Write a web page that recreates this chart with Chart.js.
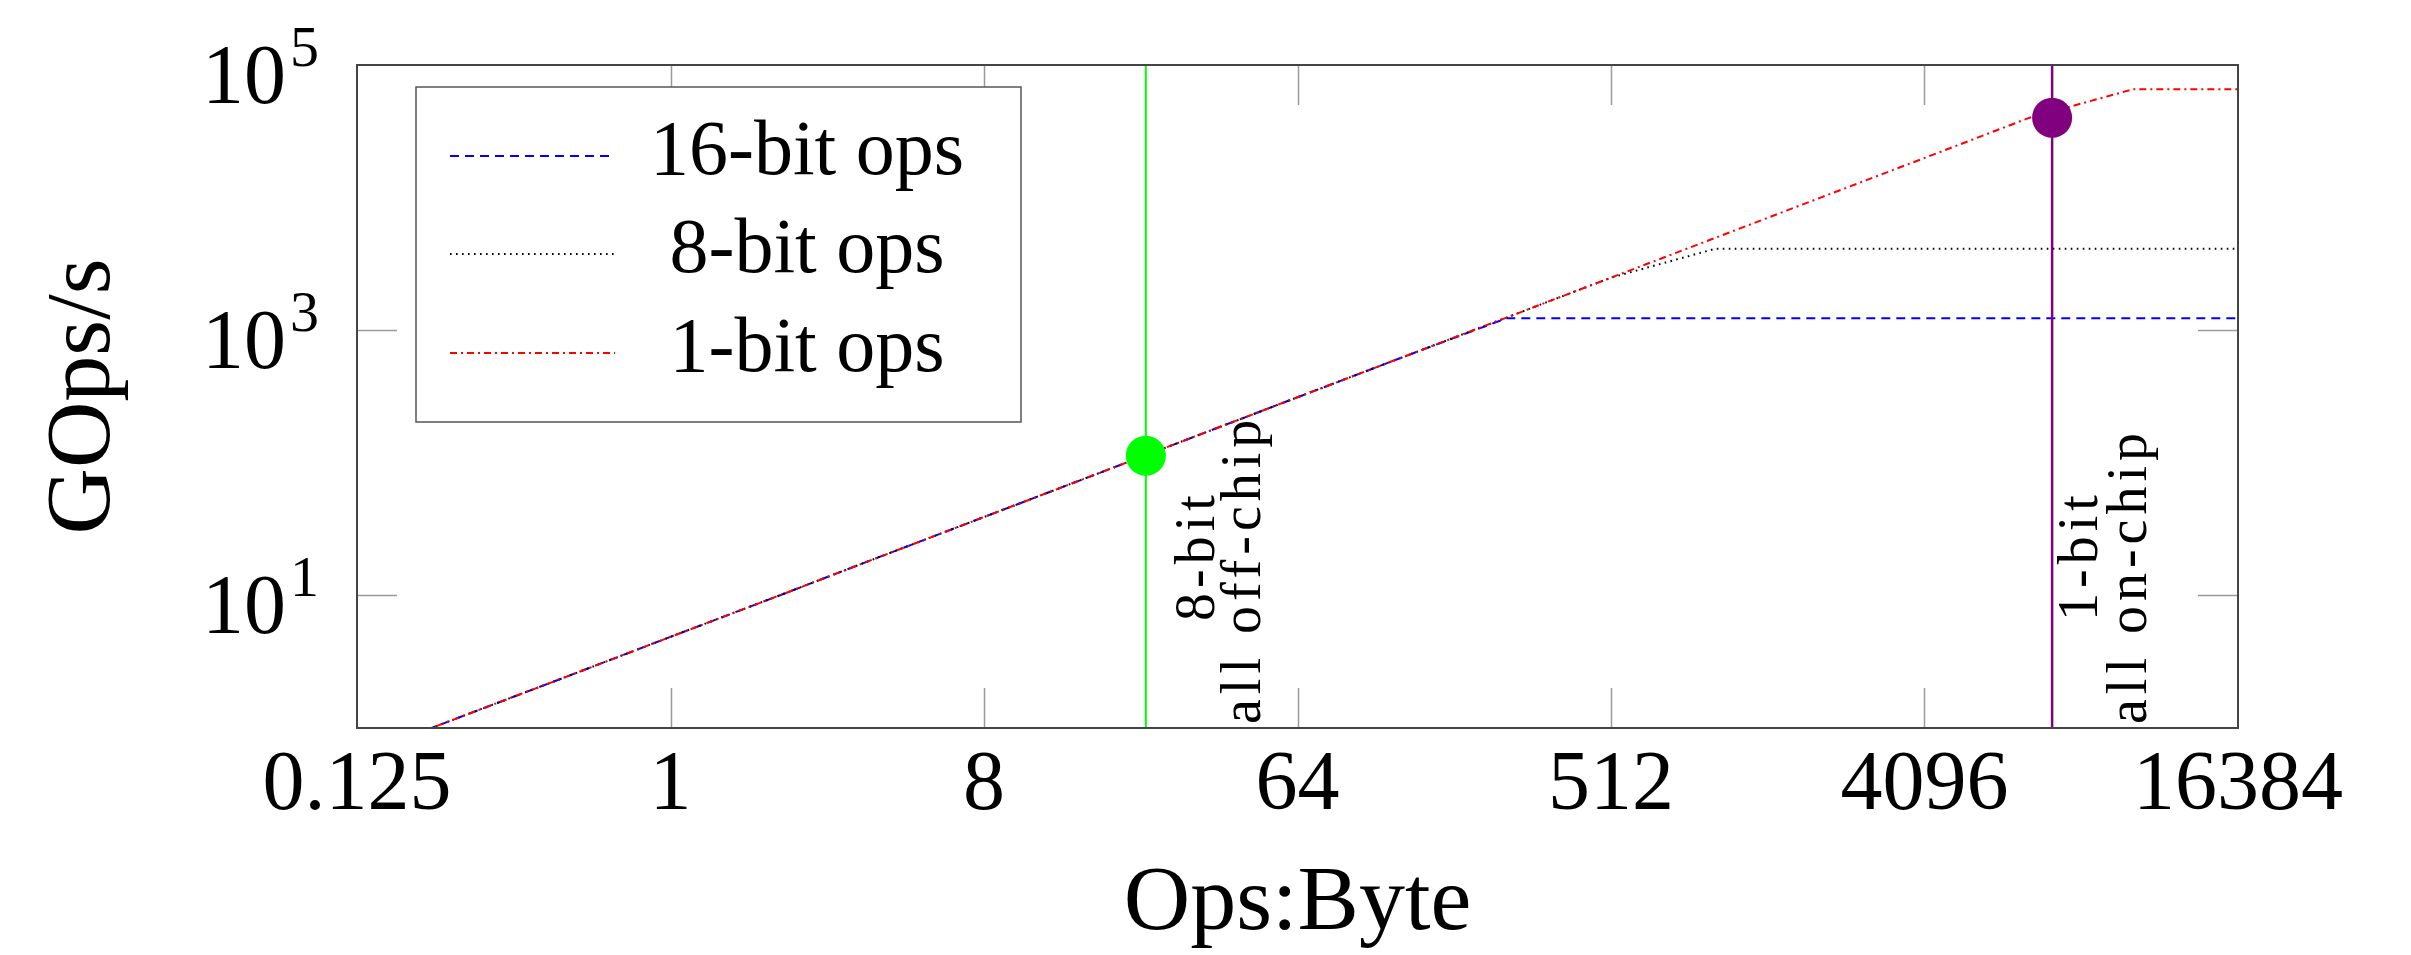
<!DOCTYPE html>
<html>
<head>
<meta charset="utf-8">
<title>Roofline</title>
<script src="https://cdn.jsdelivr.net/npm/chart.js@4.4.1/dist/chart.umd.min.js"></script>
<style>
  html, body { margin: 0; padding: 0; background: #fff; }
  #wrap { width: 2411px; height: 955px; position: relative; }
</style>
</head>
<body>
<div id="wrap"><canvas id="roofline"></canvas></div>
<script>
// data
const opsPerByte = [0.125, 0.25, 0.5, 1, 2, 4, 8, 16, 32, 64, 128, 256, 512, 1024, 2048, 4096, 8192, 16384, 32768];
const gops16bit = [0.61, 1.22, 2.43, 4.87, 9.7, 19.5, 39, 78, 156, 312, 623, 1230, 1230, 1230, 1230, 1230, 1230, 1230, 1230];
const gops8bit  = [0.61, 1.22, 2.43, 4.87, 9.7, 19.5, 39, 78, 156, 312, 623, 1245, 2490, 4120, 4120, 4120, 4120, 4120, 4120];
const gops1bit  = [0.61, 1.22, 2.43, 4.87, 9.7, 19.5, 39, 78, 156, 312, 623, 1245, 2490, 4980, 9960, 19900, 39900, 65700, 65700];

const seriesLabels = ['16-bit ops', '8-bit ops', '1-bit ops'];

// operating points (vertical marker + dot)
const markerOps  = [23.4, 9550];
const markerGops = [113, 40000];
const markerText = [['8-bit', 'all off-chip'], ['1-bit', 'all on-chip']];

const xTickValues = [0.125, 1, 8, 64, 512, 4096, 32768];
const xTickLabels = ['0.125', '1', '8', '64', '512', '4096', '16384'];
const yTickValues = [10, 1000, 100000];
const yTickExp = ['1', '3', '5'];

const X_MIN = 0.125, X_MAX = 32768, Y_MIN = 1, Y_MAX = 100000;
const FONT = "'Liberation Serif', 'Times New Roman', serif";
const TICK_LEN = 40;

const toPoints = (ys) => opsPerByte.map((x, i) => ({ x: x, y: ys[i] }));

const markerColors = ['#00ff00', '#800080'];
const markerWidths = [2, 2.5];

const datasets = [];
markerOps.forEach((x, i) => {
  datasets.push({
    label: 'dot' + i, type: 'scatter', data: [{ x: x, y: markerGops[i] }],
    pointRadius: 20, pointBackgroundColor: markerColors[i], pointBorderWidth: 0, order: 0
  });
  datasets.push({
    label: 'vline' + i, type: 'line', data: [{ x: x, y: Y_MIN }, { x: x, y: Y_MAX }],
    borderColor: markerColors[i], borderWidth: markerWidths[i], pointRadius: 0, order: 1
  });
});

const lineSeries = [
  { label: seriesLabels[0], data: toPoints(gops16bit), borderColor: '#0000ff', borderDash: [9, 6], order: 4 },
  { label: seriesLabels[1], data: toPoints(gops8bit), borderColor: '#000000', borderDash: [1.6, 4.4], order: 3 },
  { label: seriesLabels[2], data: toPoints(gops1bit), borderColor: '#ff0000', borderDash: [7, 4, 2, 4], order: 2 }
];
lineSeries.forEach(s => {
  datasets.push(Object.assign({ type: 'line', borderWidth: 2, pointRadius: 0, tension: 0, fill: false }, s));
});

const decorPlugin = {
  id: 'decor',
  beforeDatasetsDraw(chart) {
    const { ctx, chartArea: a, scales: { x, y } } = chart;
    ctx.save();
    ctx.strokeStyle = '#9a9a9a';
    ctx.lineWidth = 1.5;
    ctx.beginPath();
    xTickValues.forEach(v => {
      const px = Math.round(x.getPixelForValue(v)) + 0.5;
      if (px <= a.left + 2 || px >= a.right - 2) return;
      ctx.moveTo(px, a.bottom); ctx.lineTo(px, a.bottom - TICK_LEN);
      ctx.moveTo(px, a.top); ctx.lineTo(px, a.top + TICK_LEN);
    });
    yTickValues.forEach(v => {
      const py = Math.round(y.getPixelForValue(v)) + 0.5;
      if (py <= a.top + 2 || py >= a.bottom - 2) return;
      ctx.moveTo(a.left, py); ctx.lineTo(a.left + TICK_LEN, py);
      ctx.moveTo(a.right, py); ctx.lineTo(a.right - TICK_LEN, py);
    });
    ctx.stroke();
    ctx.restore();
  },
  afterDatasetsDraw(chart) {
    const { ctx, chartArea: a, scales: { x, y } } = chart;
    ctx.save();

    // frame
    ctx.strokeStyle = '#444';
    ctx.lineWidth = 2;
    ctx.strokeRect(a.left, a.top, a.right - a.left, a.bottom - a.top);

    // y tick labels 10^n
    ctx.fillStyle = '#000';
    yTickValues.forEach((v, i) => {
      const py = y.getPixelForValue(v);
      const right = a.left - 38;
      ctx.font = '58px ' + FONT;
      ctx.textAlign = 'right';
      ctx.textBaseline = 'alphabetic';
      const ew = ctx.measureText(yTickExp[i]).width;
      ctx.fillText(yTickExp[i], right, py + 1);
      ctx.font = '84px ' + FONT;
      ctx.fillText('10', right - ew - 4, py + 38);
    });

    // rotated notes next to the vertical markers
    const noteOffsets = [[68, 114], [45, 94]];
    ctx.font = '56px ' + FONT;
    ctx.letterSpacing = '5px';
    ctx.textAlign = 'left';
    ctx.textBaseline = 'alphabetic';
    markerOps.forEach((v, i) => {
      const px = x.getPixelForValue(v);
      const starts = [a.bottom - 107, a.bottom - 4];
      markerText[i].forEach((t, j) => {
        ctx.save();
        ctx.translate(px + noteOffsets[i][j], starts[j]);
        ctx.rotate(-Math.PI / 2);
        ctx.fillText(t, 0, 0);
        ctx.restore();
      });
    });
    ctx.letterSpacing = '0px';

    // legend
    const lx = 416, ly = 87, lw = 605, lh = 335;
    ctx.fillStyle = '#fff';
    ctx.fillRect(lx, ly, lw, lh);
    ctx.strokeStyle = '#555';
    ctx.lineWidth = 1.5;
    ctx.strokeRect(lx, ly, lw, lh);
    const rows = [156, 254, 353];
    lineSeries.forEach((s, i) => {
      ctx.strokeStyle = s.borderColor;
      ctx.lineWidth = 2;
      ctx.setLineDash(s.borderDash);
      ctx.beginPath();
      ctx.moveTo(450, rows[i]);
      ctx.lineTo(615, rows[i]);
      ctx.stroke();
      ctx.setLineDash([]);
      ctx.fillStyle = '#000';
      ctx.font = '78px ' + FONT;
      ctx.textAlign = 'center';
      ctx.fillText(s.label, 807, rows[i] + 18);
    });

    ctx.restore();
  }
};

new Chart(document.getElementById('roofline'), {
  type: 'line',
  data: { datasets: datasets },
  options: {
    responsive: true,
    maintainAspectRatio: false,
    animation: false,
    events: [],
    devicePixelRatio: 1,
    layout: { padding: { left: 0, right: 173, top: 65, bottom: 0 } },
    plugins: { legend: { display: false }, tooltip: { enabled: false } },
    scales: {
      x: {
        type: 'logarithmic',
        min: X_MIN,
        max: X_MAX,
        afterBuildTicks: (s) => { s.ticks = xTickValues.map(v => ({ value: v })); },
        afterFit: (s) => { s.height = 227; },
        grid: { display: false, drawTicks: false },
        border: { display: false },
        ticks: {
          autoSkip: false, maxRotation: 0, minRotation: 0, padding: 9, color: '#000',
          font: { family: FONT, size: 84 },
          callback: (v, i) => xTickLabels[i]
        },
        title: {
          display: true, text: 'Ops:Byte', color: '#000',
          font: { family: FONT, size: 92, lineHeight: 1 },
          padding: { top: 0, bottom: 4 }
        }
      },
      y: {
        type: 'logarithmic',
        min: Y_MIN,
        max: Y_MAX,
        afterFit: (s) => { s.width = 357; },
        grid: { display: false, drawTicks: false },
        border: { display: false },
        ticks: { display: false },
        title: {
          display: true, text: 'GOps/s', color: '#000',
          font: { family: FONT, size: 92, lineHeight: 1 },
          padding: { top: 39, bottom: 0 }
        }
      }
    }
  },
  plugins: [decorPlugin]
});
</script>
</body>
</html>
